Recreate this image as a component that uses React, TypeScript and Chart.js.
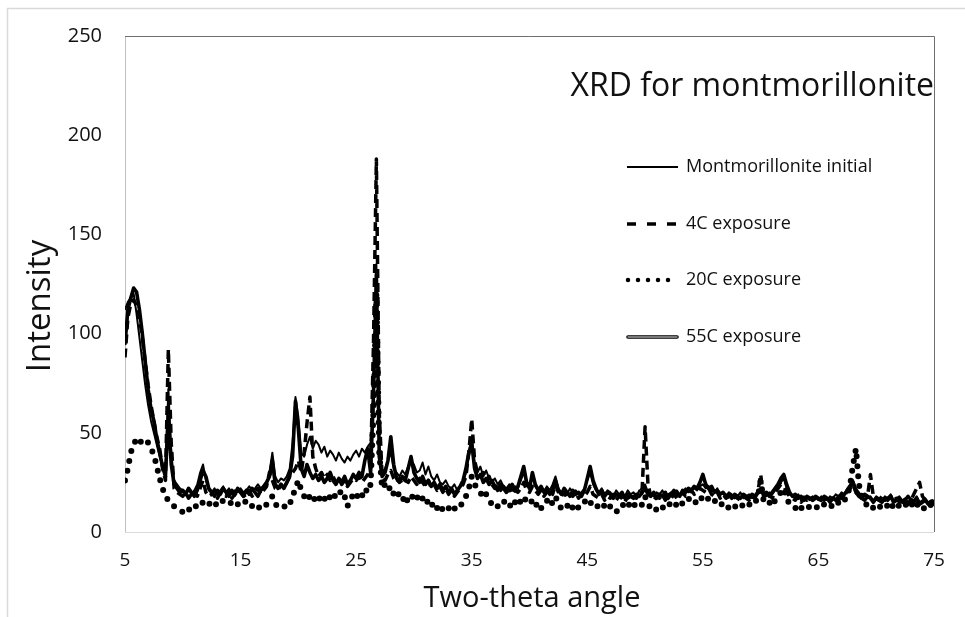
import React, { useEffect, useRef } from "react";
import { Chart, registerables } from "chart.js";

Chart.register(...registerables);

// Two-theta angles (degrees)
const angles = [
  5, 5.25, 5.5, 5.75, 6, 6.25, 6.5, 6.75, 7, 7.25, 7.5, 7.75, 8, 8.25, 8.5, 8.75, 9, 9.25, 9.5, 9.75,
  10, 10.25, 10.5, 10.75, 11, 11.25, 11.5, 11.75, 12, 12.25, 12.5, 12.75, 13, 13.25, 13.5, 13.75, 14, 14.25, 14.5, 14.75,
  15, 15.25, 15.5, 15.75, 16, 16.25, 16.5, 16.75, 17, 17.25, 17.5, 17.75, 18, 18.25, 18.5, 18.75, 19, 19.25, 19.5, 19.75,
  20, 20.25, 20.5, 20.75, 21, 21.25, 21.5, 21.75, 22, 22.25, 22.5, 22.75, 23, 23.25, 23.5, 23.75, 24, 24.25, 24.5, 24.75,
  25, 25.25, 25.5, 25.75, 26, 26.25, 26.5, 26.75, 27, 27.25, 27.5, 27.75, 28, 28.25, 28.5, 28.75, 29, 29.25, 29.5, 29.75,
  30, 30.25, 30.5, 30.75, 31, 31.25, 31.5, 31.75, 32, 32.25, 32.5, 32.75, 33, 33.25, 33.5, 33.75, 34, 34.25, 34.5, 34.75,
  35, 35.25, 35.5, 35.75, 36, 36.25, 36.5, 36.75, 37, 37.25, 37.5, 37.75, 38, 38.25, 38.5, 38.75, 39, 39.25, 39.5, 39.75,
  40, 40.25, 40.5, 40.75, 41, 41.25, 41.5, 41.75, 42, 42.25, 42.5, 42.75, 43, 43.25, 43.5, 43.75, 44, 44.25, 44.5, 44.75,
  45, 45.25, 45.5, 45.75, 46, 46.25, 46.5, 46.75, 47, 47.25, 47.5, 47.75, 48, 48.25, 48.5, 48.75, 49, 49.25, 49.5, 49.75,
  50, 50.25, 50.5, 50.75, 51, 51.25, 51.5, 51.75, 52, 52.25, 52.5, 52.75, 53, 53.25, 53.5, 53.75, 54, 54.25, 54.5, 54.75,
  55, 55.25, 55.5, 55.75, 56, 56.25, 56.5, 56.75, 57, 57.25, 57.5, 57.75, 58, 58.25, 58.5, 58.75, 59, 59.25, 59.5, 59.75,
  60, 60.25, 60.5, 60.75, 61, 61.25, 61.5, 61.75, 62, 62.25, 62.5, 62.75, 63, 63.25, 63.5, 63.75, 64, 64.25, 64.5, 64.75,
  65, 65.25, 65.5, 65.75, 66, 66.25, 66.5, 66.75, 67, 67.25, 67.5, 67.75, 68, 68.25, 68.5, 68.75, 69, 69.25, 69.5, 69.75,
  70, 70.25, 70.5, 70.75, 71, 71.25, 71.5, 71.75, 72, 72.25, 72.5, 72.75, 73, 73.25, 73.5, 73.75, 74, 74.25, 74.5, 74.75,
  75,
];

const initialValues = [
  112, 116, 118, 120, 110, 98, 86, 74, 64, 56, 50, 44, 38, 33, 30, 72, 40, 26, 24, 22,
  21, 20, 22, 19, 21, 24, 30, 34, 26, 21, 20, 22, 19, 21, 23, 20, 22, 19, 21, 20,
  22, 20, 21, 23, 21, 22, 24, 22, 23, 24, 30, 40, 28, 25, 27, 26, 28, 32, 45, 68,
  58, 40, 38, 44, 48, 42, 46, 44, 40, 43, 38, 41, 39, 36, 40, 37, 35, 38, 36, 39,
  41, 38, 42, 40, 43, 45, 60, 135, 42, 30, 32, 36, 40, 32, 30, 28, 31, 29, 33, 36,
  34, 30, 31, 35, 29, 33, 28, 26, 29, 25, 24, 26, 23, 22, 24, 21, 23, 25, 30, 38,
  48, 34, 30, 33, 28, 31, 27, 25, 27, 24, 26, 23, 22, 24, 21, 23, 22, 26, 30, 24,
  22, 28, 23, 21, 22, 20, 23, 21, 24, 28, 22, 20, 21, 19, 22, 20, 21, 19, 20, 22,
  26, 30, 24, 21, 20, 22, 19, 21, 20, 18, 21, 19, 20, 18, 21, 19, 20, 18, 21, 19,
  24, 20, 19, 18, 20, 19, 21, 18, 19, 20, 18, 21, 19, 20, 22, 20, 21, 22, 21, 23,
  24, 22, 23, 21, 20, 22, 19, 20, 18, 20, 19, 17, 18, 20, 17, 18, 19, 17, 18, 19,
  22, 19, 18, 20, 19, 21, 23, 25, 27, 22, 19, 18, 17, 19, 16, 18, 17, 16, 18, 17,
  16, 18, 17, 16, 18, 17, 19, 18, 20, 19, 22, 24, 26, 22, 20, 18, 19, 17, 18, 16,
  18, 17, 16, 18, 17, 19, 16, 17, 18, 16, 17, 15, 17, 16, 18, 15, 16, 17, 15, 16,
  15,
];

const exposure4C = [
  88, 108, 115, 117, 114, 108, 98, 86, 74, 64, 56, 48, 42, 32, 26, 92, 45, 22, 20, 19,
  18, 20, 17, 19, 21, 18, 22, 26, 20, 18, 19, 21, 17, 20, 19, 18, 21, 17, 19, 18,
  20, 18, 19, 21, 18, 20, 22, 19, 21, 23, 30, 26, 22, 21, 24, 22, 25, 28, 30, 32,
  36, 30, 40, 55, 68, 38, 32, 28, 30, 27, 29, 26, 28, 25, 27, 24, 26, 23, 25, 27,
  26, 28, 25, 27, 29, 32, 95, 188, 60, 28, 26, 29, 31, 27, 25, 27, 24, 26, 25, 28,
  26, 24, 27, 25, 23, 26, 22, 24, 21, 23, 20, 22, 19, 21, 18, 20, 22, 24, 28, 40,
  57, 36, 30, 28, 30, 26, 28, 24, 22, 24, 21, 23, 20, 22, 19, 21, 20, 22, 25, 21,
  20, 23, 21, 19, 21, 18, 20, 22, 19, 24, 20, 18, 20, 17, 19, 18, 20, 17, 19, 18,
  20, 23, 19, 18, 17, 19, 16, 18, 17, 19, 16, 18, 17, 15, 18, 16, 18, 17, 19, 22,
  53, 24, 18, 16, 18, 17, 19, 16, 18, 17, 19, 17, 18, 20, 18, 19, 21, 19, 20, 22,
  21, 20, 22, 19, 18, 20, 17, 19, 17, 18, 16, 18, 17, 16, 18, 17, 16, 18, 17, 20,
  29, 18, 17, 19, 17, 20, 22, 24, 23, 20, 18, 17, 16, 18, 15, 17, 16, 18, 16, 17,
  15, 17, 16, 18, 16, 17, 18, 16, 19, 18, 21, 22, 24, 20, 18, 17, 19, 18, 29, 18,
  17, 16, 18, 16, 17, 18, 16, 17, 15, 17, 16, 18, 16, 19, 22, 25, 18, 16, 17, 15,
  16,
];

const exposure20C = [
  26, 32, 40, 44, 47, 45, 46, 47, 45, 42, 39, 33, 27, 22, 18, 16, 15, 13, 12, 11,
  10, 12, 11, 13, 12, 14, 13, 15, 16, 14, 15, 13, 15, 14, 16, 15, 14, 15, 16, 14,
  15, 14, 16, 15, 13, 14, 12, 13, 12, 14, 16, 18, 14, 13, 14, 13, 12, 14, 18, 22,
  26, 21, 18, 20, 17, 15, 18, 16, 19, 17, 15, 18, 20, 17, 19, 21, 18, 13, 16, 19,
  17, 20, 18, 22, 20, 24, 60, 120, 40, 22, 24, 21, 23, 19, 17, 20, 18, 14, 17, 19,
  16, 18, 15, 17, 14, 16, 13, 15, 12, 14, 11, 13, 12, 10, 12, 11, 13, 15, 18, 22,
  28, 24, 22, 20, 17, 19, 16, 14, 15, 13, 14, 16, 13, 14, 12, 15, 13, 16, 18, 15,
  14, 16, 13, 15, 12, 14, 16, 13, 15, 18, 14, 12, 14, 13, 15, 12, 14, 12, 13, 15,
  17, 15, 13, 14, 12, 14, 13, 11, 13, 12, 10, 12, 14, 13, 15, 12, 14, 13, 12, 14,
  18, 14, 12, 13, 11, 13, 12, 14, 13, 15, 13, 14, 16, 14, 15, 17, 15, 16, 14, 16,
  18, 16, 17, 15, 16, 14, 15, 13, 14, 12, 14, 13, 12, 14, 13, 15, 14, 13, 15, 17,
  26, 16, 14, 15, 13, 16, 18, 20, 22, 17, 14, 13, 12, 14, 12, 13, 14, 12, 13, 12,
  13, 12, 14, 13, 12, 14, 13, 15, 14, 16, 18, 24, 34, 42, 24, 18, 15, 13, 14, 12,
  14, 13, 12, 14, 13, 15, 12, 14, 13, 12, 14, 13, 15, 12, 14, 13, 11, 13, 12, 14,
  13,
];

const exposure55C = [
  95, 112, 118, 123, 121, 112, 100, 86, 72, 62, 56, 47, 40, 33, 28, 60, 34, 24, 22, 20,
  21, 19, 22, 20, 18, 21, 26, 31, 28, 22, 20, 18, 21, 19, 22, 20, 18, 21, 19, 22,
  20, 18, 21, 19, 22, 20, 18, 21, 23, 25, 28, 36, 24, 22, 24, 22, 25, 28, 38, 66,
  52, 32, 28, 34, 30, 27, 29, 26, 28, 25, 27, 30, 26, 24, 27, 25, 28, 24, 26, 29,
  27, 30, 28, 36, 42, 30, 70, 130, 38, 28, 30, 36, 48, 34, 27, 25, 28, 26, 32, 38,
  30, 27, 25, 28, 24, 26, 23, 25, 22, 24, 21, 23, 20, 22, 19, 21, 23, 26, 32, 40,
  45, 32, 27, 29, 25, 27, 24, 26, 23, 21, 24, 22, 20, 22, 24, 21, 23, 28, 33, 25,
  22, 30, 24, 21, 23, 20, 22, 19, 21, 26, 21, 19, 22, 20, 18, 21, 19, 20, 18, 21,
  27, 33, 26, 22, 19, 21, 18, 20, 19, 17, 19, 18, 20, 17, 19, 18, 17, 19, 18, 20,
  22, 19, 18, 20, 17, 19, 18, 20, 17, 19, 21, 19, 18, 21, 20, 22, 21, 23, 22, 25,
  29, 24, 22, 23, 20, 21, 19, 20, 18, 19, 17, 19, 18, 17, 19, 18, 17, 19, 18, 20,
  21, 19, 20, 18, 20, 22, 24, 27, 29, 24, 20, 18, 19, 17, 18, 16, 18, 17, 16, 18,
  17, 16, 18, 17, 15, 17, 16, 18, 17, 19, 21, 23, 25, 20, 18, 17, 16, 18, 17, 15,
  17, 16, 15, 17, 16, 18, 15, 16, 17, 15, 16, 14, 16, 15, 17, 14, 15, 16, 14, 15,
  14,
];

const seriesNames = ["Montmorillonite initial", "4C exposure", "20C exposure", "55C exposure"];
const chartTitle = "XRD for montmorillonite";
const xAxisTitle = "Two-theta angle";
const yAxisTitle = "Intensity";
const xRange = [5, 75];
const yRange = [0, 250];
const xStep = 10;
const yStep = 50;

const FONT = "'Open Sans', 'Liberation Sans', sans-serif";
const INK = "#111111";

type Style = { width: number; dash: number[]; cap: CanvasLineCap; color: string };
const solidStyle: Style = { width: 2, dash: [], cap: "butt", color: "#000000" };
const dashStyle: Style = { width: 3.5, dash: [9, 5], cap: "butt", color: "#000000" };
const dotStyle: Style = { width: 6, dash: [0, 10], cap: "round", color: "#000000" };
const outerStyle: Style = { width: 3.6, dash: [], cap: "round", color: "#000000" };
const innerStyle: Style = { width: 1.4, dash: [], cap: "round", color: "#c8c8c8" };

export default function App() {
  const ref = useRef<HTMLCanvasElement | null>(null);

  useEffect(() => {
    const canvas = ref.current;
    if (!canvas) return;
    const pts = (ys: number[]) => angles.map((x, i) => ({ x, y: ys[i] }));
    const ds = (label: string, ys: number[], s: Style) => ({
      label,
      data: pts(ys),
      borderColor: s.color,
      borderWidth: s.width,
      borderDash: s.dash,
      borderCapStyle: s.cap,
      borderJoinStyle: "round" as CanvasLineJoin,
      pointRadius: 0,
      fill: false,
      tension: 0,
    });

    const strokeSample = (ctx: CanvasRenderingContext2D, x0: number, x1: number, y: number, s: Style) => {
      ctx.save();
      ctx.strokeStyle = s.color;
      ctx.lineWidth = s.width;
      ctx.setLineDash(s.dash);
      ctx.lineCap = s.cap;
      ctx.beginPath();
      ctx.moveTo(x0, y);
      ctx.lineTo(x1, y);
      ctx.stroke();
      ctx.restore();
    };

    const decor = {
      id: "decor",
      beforeDatasetsDraw(chart: any) {
        const { ctx, chartArea: a } = chart;
        ctx.save();
        // outer chart frame
        ctx.strokeStyle = "#d9d9d9";
        ctx.lineWidth = 1.5;
        ctx.beginPath();
        ctx.moveTo(7.5, 617);
        ctx.lineTo(7.5, 8.5);
        ctx.lineTo(965, 8.5);
        ctx.stroke();
        // plot area frame
        ctx.lineWidth = 1;
        ctx.strokeStyle = "#c0c0c0";
        ctx.beginPath();
        ctx.moveTo(a.left + 0.5, a.top);
        ctx.lineTo(a.left + 0.5, a.bottom);
        ctx.stroke();
        ctx.strokeStyle = "#d9d9d9";
        ctx.beginPath();
        ctx.moveTo(a.left, a.bottom + 0.5);
        ctx.lineTo(a.right, a.bottom + 0.5);
        ctx.stroke();
        ctx.strokeStyle = "#6e6e6e";
        ctx.beginPath();
        ctx.moveTo(a.left, a.top + 0.5);
        ctx.lineTo(a.right + 0.5, a.top + 0.5);
        ctx.lineTo(a.right + 0.5, a.bottom);
        ctx.stroke();
        ctx.restore();
      },
      afterDraw(chart: any) {
        const { ctx, chartArea: a } = chart;
        ctx.save();
        ctx.fillStyle = INK;
        // chart title
        ctx.font = `32px ${FONT}`;
        ctx.textAlign = "right";
        ctx.textBaseline = "middle";
        ctx.fillText(chartTitle, a.right, 87);
        // axis titles
        ctx.font = `29px ${FONT}`;
        ctx.textAlign = "center";
        ctx.fillText(xAxisTitle, 532, 599);
        ctx.save();
        ctx.translate(41, 306);
        ctx.rotate(-Math.PI / 2);
        ctx.font = `33px ${FONT}`;
        ctx.fillText(yAxisTitle, 0, 0);
        ctx.restore();
        // legend
        const rows = [167, 224, 280, 337];
        const lx0 = 627;
        const lx1 = 678;
        strokeSample(ctx, lx0, lx1, rows[0], solidStyle);
        strokeSample(ctx, lx0, lx1, rows[1], { ...dashStyle, dash: [9, 11] });
        strokeSample(ctx, lx0 + 1, lx1, rows[2], { ...dotStyle, width: 4.5, dash: [0, 10] });
        strokeSample(ctx, lx0 + 1, lx1 - 1, rows[3], outerStyle);
        strokeSample(ctx, lx0 + 1, lx1 - 1, rows[3], { ...innerStyle, color: "#a0a0a0" });
        ctx.font = `18px ${FONT}`;
        ctx.textAlign = "left";
        ctx.textBaseline = "middle";
        seriesNames.forEach((n, i) => ctx.fillText(n, 686, rows[i]));
        ctx.restore();
      },
    };

    const chart = new Chart(canvas, {
      type: "line",
      data: {
        datasets: [
          ds(seriesNames[0], initialValues, solidStyle),
          ds(seriesNames[1], exposure4C, dashStyle),
          ds(seriesNames[2], exposure20C, dotStyle),
          ds(seriesNames[3], exposure55C, outerStyle),
          ds(seriesNames[3] + " (inner)", exposure55C, innerStyle),
        ],
      },
      options: {
        responsive: false,
        animation: false,
        devicePixelRatio: 1,
        layout: { padding: { left: 0, top: 36, right: 31, bottom: 0 } },
        plugins: { legend: { display: false }, tooltip: { enabled: false }, title: { display: false } },
        scales: {
          x: {
            type: "linear",
            min: xRange[0],
            max: xRange[1],
            grid: { display: false, drawTicks: false },
            border: { display: false },
            ticks: {
              stepSize: xStep,
              padding: 17,
              color: INK,
              font: { family: FONT, size: 19 },
              maxRotation: 0,
            },
            afterFit: (s: any) => {
              s.height = 85;
            },
          },
          y: {
            type: "linear",
            min: yRange[0],
            max: yRange[1],
            grid: { display: false, drawTicks: false },
            border: { display: false },
            ticks: {
              stepSize: yStep,
              padding: 23,
              color: INK,
              font: { family: FONT, size: 20 },
            },
            afterFit: (s: any) => {
              s.width = 125;
            },
          },
        },
      },
      plugins: [decor],
    } as any);

    return () => chart.destroy();
  }, []);

  return (
    <div style={{ position: "fixed", left: 0, top: 0, width: 965, height: 617, background: "#ffffff" }}>
      <canvas ref={ref} width={965} height={617} style={{ display: "block", width: 965, height: 617 }} />
    </div>
  );
}
